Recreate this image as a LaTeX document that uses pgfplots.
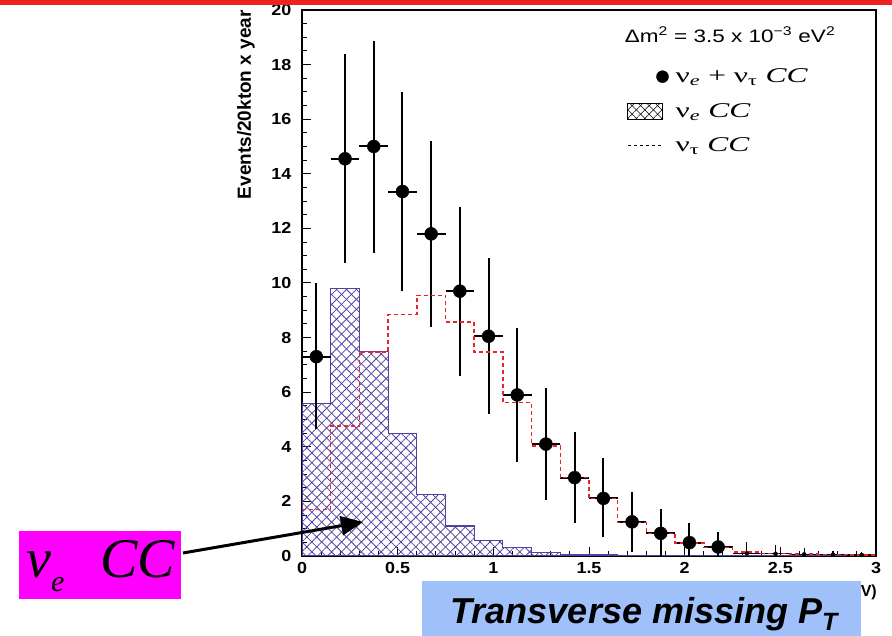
\documentclass[border=0pt]{standalone}
\usepackage{fontspec}
\setmainfont{Liberation Sans}
\newfontfamily\timesfont{Liberation Serif}
\usepackage{pgfplots}
\usepackage{pgfplotstable}
\pgfplotsset{compat=1.18}
\usetikzlibrary{patterns.meta, arrows.meta}
\definecolor{hatch}{RGB}{85,65,160}
\definecolor{nured}{RGB}{235,35,40}
\definecolor{slidered}{RGB}{235,35,35}
\definecolor{boxblue}{RGB}{160,192,250}
\definecolor{mag}{RGB}{255,0,255}

% nu_e CC histogram (left bin edges, last point repeated at x=3)
\pgfplotstableread{
x y
0.00 5.6
0.15 9.8
0.30 7.5
0.45 4.5
0.60 2.25
0.75 1.1
0.90 0.58
1.05 0.3
1.20 0.12
1.35 0.07
1.50 0.05
1.65 0.03
1.80 0.02
1.95 0.02
2.10 0.02
2.25 0.02
2.40 0.02
2.55 0.02
2.70 0.02
2.85 0.02
3.00 0.02
}\nuehist

% nu_tau CC histogram
\pgfplotstableread{
x y
0.00 1.7
0.15 4.77
0.30 7.47
0.45 8.85
0.60 9.55
0.75 8.58
0.90 7.47
1.05 5.62
1.20 4.03
1.35 2.87
1.50 2.1
1.65 1.22
1.80 0.83
1.95 0.47
2.10 0.32
2.25 0.15
2.40 0.1
2.55 0.08
2.70 0.06
2.85 0.04
3.00 0.04
}\nutauhist

% nu_e + nu_tau CC points
\pgfplotstableread{
x y ex eyp eym
0.075 7.3 0.075 2.7 2.65
0.225 14.55 0.075 3.85 3.8
0.375 15.0 0.075 3.85 3.9
0.525 13.35 0.075 3.65 3.65
0.675 11.8 0.075 3.4 3.4
0.825 9.7 0.075 3.1 3.1
0.975 8.05 0.075 2.85 2.85
1.125 5.9 0.075 2.45 2.45
1.275 4.1 0.075 2.05 2.05
1.425 2.87 0.075 1.68 1.67
1.575 2.11 0.075 1.47 1.4
1.725 1.25 0.075 1.1 1.1
1.875 0.83 0.075 0.9 0.83
2.025 0.49 0.075 0.71 0.49
2.175 0.33 0.075 0.54 0.33
}\datapts

\pgfplotstableread{
x y ex eyp eym
2.325 0.1 0.075 0.43 0.1
2.475 0.08 0.075 0.32 0.08
2.625 0.06 0.075 0.24 0.06
2.775 0.05 0.075 0.15 0.05
2.925 0.04 0.075 0.12 0.04
}\tinypts

\newcommand{\lgtext}[1]{\scalebox{1.5}[1]{#1}}

\begin{document}
\begin{tikzpicture}
\useasboundingbox (0,0) rectangle (892pt,636pt);
\begin{axis}[
  at={(302pt,80pt)}, anchor=south west,
  scale only axis, width=574pt, height=546pt,
  xmin=0, xmax=3, ymin=0, ymax=20,
  xtick={0,0.5,...,3}, minor x tick num=4,
  ytick={0,2,...,20}, minor y tick num=3,
  tick pos=left, tick align=inside,
  major tick length=9pt, minor tick length=5pt,
  axis line style={line width=1.3pt},
  every tick/.style={black, line width=1pt},
  /pgf/number format/assume math mode=true,
  ticklabel style={font=\fontsize{16}{16}\selectfont\bfseries, xscale=1.12},
  yticklabel style={xshift=-6pt},
  xticklabel style={yshift=-3pt},
  legend style={draw=none, fill=none, at={(rel axis cs:0.566,0.896)}, anchor=north west,
    font=\timesfont\fontsize{21}{21}\selectfont, row sep=15pt, inner sep=0pt,
    /tikz/every odd column/.append style={column sep=5pt}},
  legend cell align=left,
]
\addplot[const plot, draw=hatch, line width=1.1pt,
  pattern={Lines[angle=45,distance=7pt,line width=0.8pt]}, pattern color=hatch,
  postaction={pattern={Lines[angle=-45,distance=7pt,line width=0.8pt]}, pattern color=hatch},
  forget plot] table[x=x,y=y] {\nuehist} \closedcycle;
\addplot[forget plot, only marks, mark=*, mark size=6.5pt, black,
  error bars/.cd, x dir=both, x explicit, y dir=both, y explicit,
  error bar style={line width=2pt, black}, error mark=none]
  table[x=x, y=y, x error=ex, y error plus=eyp, y error minus=eym] {\datapts};
\addplot[forget plot, only marks, mark=none, black,
  error bars/.cd, x dir=both, x explicit, y dir=both, y explicit,
  error bar style={line width=1.2pt, black}, error mark=none]
  table[x=x, y=y, x error=ex, y error plus=eyp, y error minus=eym] {\tinypts};
\addplot[forget plot, const plot, color=nured, line width=1.5pt, dash pattern=on 4pt off 3pt]
  table[x=x,y=y] {\nutauhist};

\addlegendimage{legend image code/.code={\path (0pt,0pt) (41pt,0pt); \fill[black] (35pt,0pt) circle (6pt);}}
\addlegendentry{\lgtext{ν\textsubscript{\itshape e} + ν\textsubscript{τ} \textit{CC}}}
\addlegendimage{legend image code/.code={\path (0pt,0pt) (41pt,0pt); \draw[black, line width=0.8pt,
   postaction={pattern={Lines[angle=45,distance=6pt,line width=0.6pt]}},
   postaction={pattern={Lines[angle=-45,distance=6pt,line width=0.6pt]}}]
   (0pt,-8pt) rectangle (35pt,8pt);}}
\addlegendentry{\lgtext{ν\textsubscript{\itshape e} \textit{CC}}}
\addlegendimage{legend image code/.code={\path (0pt,0pt) (41pt,0pt); \draw[black, line width=0.7pt, dash pattern=on 3pt off 3pt] (1pt,0pt) -- (35pt,0pt);}}
\addlegendentry{\lgtext{ν\textsubscript{τ} \textit{CC}}}

\node[anchor=west, font=\fontsize{18}{18}\selectfont, inner sep=0pt] at (rel axis cs:0.562,0.955)
  {\scalebox{1.25}[1]{Δm\textsuperscript{2} = 3.5 x 10\textsuperscript{−3} eV\textsuperscript{2}}};
\end{axis}

\fill[slidered] (0,631pt) rectangle (892pt,636pt);

\node[rotate=90, anchor=south east, font=\bfseries\fontsize{19}{19}\selectfont, inner sep=0pt]
  at (255pt,626pt) {Events/20kton x year};

\node[anchor=base east, font=\bfseries\fontsize{16}{16}\selectfont, inner sep=0pt]
  at (877pt,39pt) {P\textsubscript{T} (GeV)};

\fill[boxblue] (422pt,0pt) rectangle (861pt,55pt);
\node[anchor=base, font=\bfseries\itshape\fontsize{36}{36}\selectfont, inner sep=0pt]
  at (644pt,12pt) {Transverse missing P\raisebox{-7pt}{\fontsize{25}{25}\selectfont T}};

\node[fill=mag, minimum width=162pt, minimum height=68pt, anchor=south west, inner sep=0pt]
  at (19pt,37pt) {};
\node[anchor=base west, font=\timesfont\itshape\fontsize{56}{56}\selectfont, inner sep=0pt]
  at (26pt,58pt) {ν\raisebox{-14pt}{\fontsize{30}{30}\selectfont e}\hspace{36pt}CC};

\draw[line width=3pt, -{Triangle[length=22pt,width=19pt]}] (183pt,83pt) -- (363pt,114pt);
\end{tikzpicture}
\end{document}
